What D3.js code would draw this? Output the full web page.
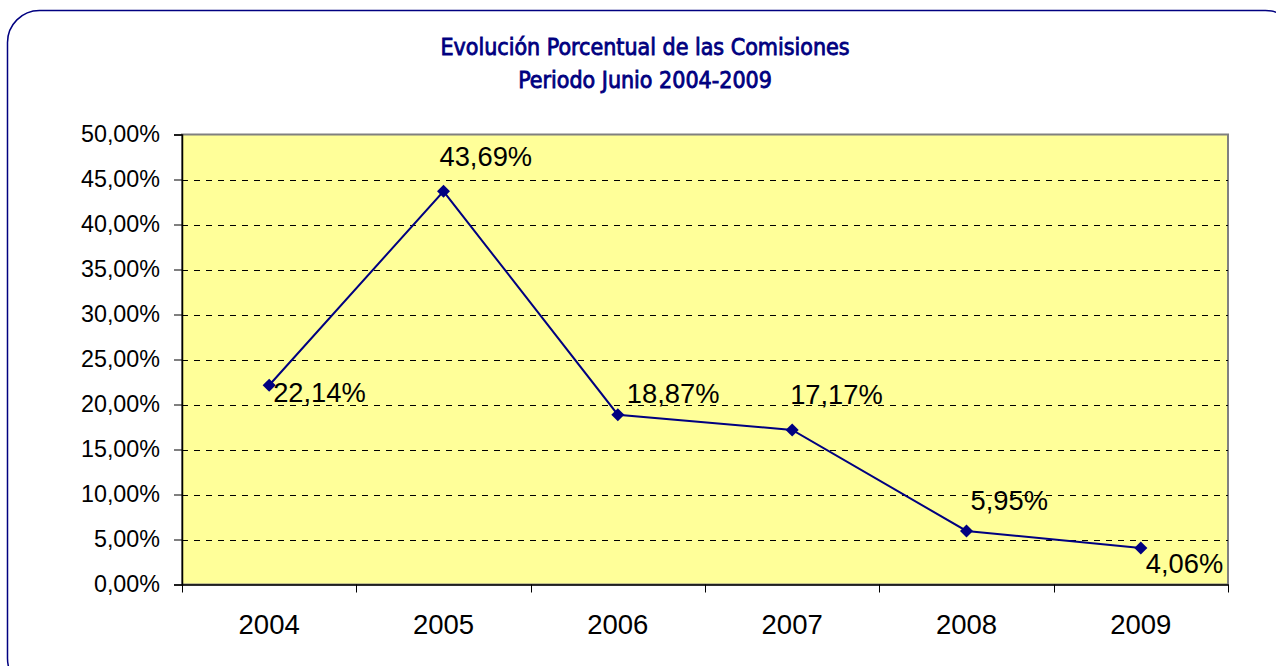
<!DOCTYPE html>
<html><head><meta charset="utf-8">
<script src="https://cdn.jsdelivr.net/npm/d3@7"></script>
<style>body{margin:0;background:#fff}svg{display:block}</style>
</head><body>
<svg id="c" width="1276" height="666"></svg>
<script>
const categories = ["2004","2005","2006","2007","2008","2009"];
const values = [22.14, 43.69, 18.87, 17.17, 5.95, 4.06];
const yTicks = [0,5,10,15,20,25,30,35,40,45,50];
const titleLines = ["Evolución Porcentual de las Comisiones","Periodo Junio 2004-2009"];
// label offsets (layout, not data)
const labelDx = [4, -4, 9, -2, 4, 5];
const labelDy = [17, -25, -12, -26, -21, 25];

const svg = d3.select("#c");
svg.append("rect").attr("x",7.5).attr("y",10.5).attr("width",1290).attr("height",680)
  .attr("rx",32).attr("fill","#fff").attr("stroke","#000080").attr("stroke-width",1.5);

const m = {l:182, t:134.5, r:1228, b:584.5};
const x = d3.scaleBand().domain(categories).range([m.l, m.r]);
const y = d3.scaleLinear().domain([0,50]).range([m.b, m.t]);
const fmt = v => d3.format(".2f")(v).replace(".", ",") + "%";

svg.append("g").selectAll("text").data(titleLines).join("text")
  .attr("x", 645).attr("y",(d,i)=>55+i*33).attr("text-anchor","middle")
  .attr("font-family","DejaVu Sans Condensed, DejaVu Sans")
  .attr("font-size",23).attr("fill","#000080").attr("stroke","#000080").attr("stroke-width",0.8).text(d=>d);

svg.append("rect").attr("x",m.l).attr("y",m.t).attr("width",m.r-m.l).attr("height",m.b-m.t)
  .attr("fill","#FFFF99").attr("stroke","#808080").attr("stroke-width",2);

svg.append("g").selectAll("line").data(yTicks.filter(d=>d>0 && d<50)).join("line")
  .attr("x1",m.l).attr("x2",m.r).attr("y1",d=>Math.round(y(d))+0.5).attr("y2",d=>Math.round(y(d))+0.5)
  .attr("stroke","#000").attr("stroke-dasharray","6,6");

const yAxis = d3.axisLeft(y).tickValues(yTicks).tickSize(8).tickPadding(14).tickFormat(fmt);
const gy = svg.append("g").attr("transform",`translate(${m.l},0)`).call(yAxis);
gy.select(".domain").attr("stroke","#000").attr("stroke-width",1.5);
gy.selectAll("text").attr("font-family","Liberation Sans, Arial").attr("font-size",23.3).attr("fill","#000");

const xAxis = d3.axisBottom(x).tickSize(0).tickSizeOuter(0);
const gx = svg.append("g").attr("transform",`translate(0,${m.b})`).call(xAxis);
gx.select(".domain").attr("stroke","#000").attr("stroke-width",1.5);
gx.selectAll("text").attr("font-family","Liberation Sans, Arial").attr("font-size",27.5).attr("fill","#000").attr("dy",0).attr("y",49);
// category boundary ticks
const bounds = categories.map(c=>x(c)).concat([m.r]);
svg.append("g").selectAll("line").data(bounds).join("line")
  .attr("x1",d=>Math.round(d)+0.5).attr("x2",d=>Math.round(d)+0.5).attr("y1",m.b).attr("y2",m.b+8)
  .attr("stroke","#000");

const cx = c => x(c) + x.bandwidth()/2;
const line = d3.line().x((d,i)=>cx(categories[i])).y(d=>y(d));
svg.append("path").datum(values).attr("d",line).attr("fill","none").attr("stroke","#000080").attr("stroke-width",2);
svg.append("g").selectAll("path").data(values).join("path")
  .attr("d", d3.symbol(d3.symbolSquare, 85))
  .attr("transform",(d,i)=>`translate(${cx(categories[i])},${y(d)}) rotate(45)`).attr("fill","#000080");
svg.append("g").selectAll("text").data(values).join("text")
  .attr("x",(d,i)=>cx(categories[i])+labelDx[i]).attr("y",(d,i)=>y(d)+labelDy[i])
  .attr("font-family","Liberation Sans, Arial").attr("font-size",27.3).attr("fill","#000").text(fmt);
</script>
</body></html>
